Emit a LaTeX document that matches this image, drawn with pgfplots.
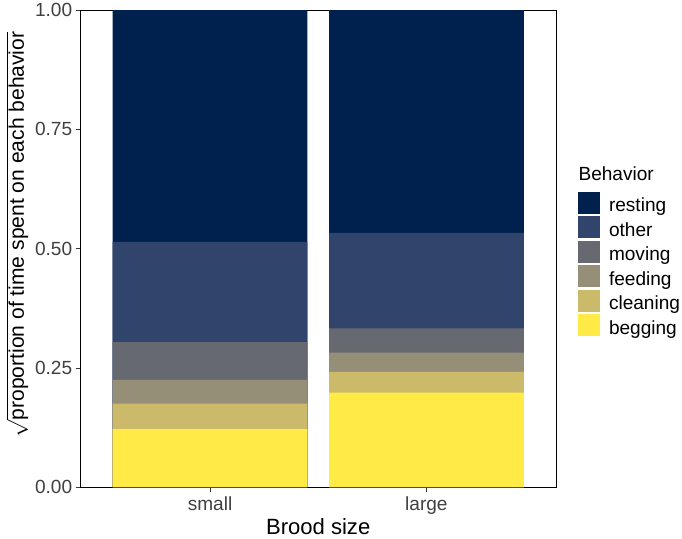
\documentclass[border=0pt]{standalone}
\usepackage{pgfplots}
\pgfplotsset{compat=1.18}
\usepackage{fontspec}
\setmainfont{Liberation Sans}
\definecolor{cResting}{HTML}{00204D}
\definecolor{cOther}{HTML}{31446B}
\definecolor{cMoving}{HTML}{666970}
\definecolor{cFeeding}{HTML}{958F78}
\definecolor{cCleaning}{HTML}{CBBA69}
\definecolor{cBegging}{HTML}{FFEA46}
\begin{document}
\begin{tikzpicture}
\begin{axis}[
  scale only axis, width=473bp, height=474bp,
  ybar, bar shift=0pt, bar width=0.9,
  xmin=0.4, xmax=2.6, ymin=0, ymax=1,
  clip=false,
  xtick={1,2}, xticklabels={small,large},
  ytick={0,0.25,0.5,0.75,1},
  yticklabel style={/pgf/number format/.cd,fixed,fixed zerofill,precision=2},
  /pgf/number format/assume math mode=true,
  tick align=outside, tick pos=left,
  major tick length=4.5bp,
  every tick/.style={black!80, line width=0.7pt},
  axis line style={black, line width=0.9pt},
  ticklabel style={font=\fontsize{19}{20}\selectfont, text=black!75},
  xticklabel style={yshift=-1bp},
  xlabel={Brood size},
  ylabel={$\sqrt{\hbox{proportion of time spent on each behavior}}$},
  xlabel style={font=\fontsize{22}{24}\selectfont, yshift=2bp},
  ylabel style={font=\fontsize{21}{23}\selectfont, yshift=0bp, xshift=14bp},
  legend style={at={(1.045,0.6196)}, anchor=north west, draw=none, fill=none,
    inner sep=0pt, font=\fontsize{19}{20}\selectfont, row sep=0.7bp},
  legend cell align=left,
  legend image code/.code={\fill[#1,draw=none] (0bp,-8bp) rectangle (22bp,14bp);
    \path[draw=none,fill=none] (22bp,0bp) -- (29bp,0bp);},
]
% cumulative (stacked) heights, drawn from the top segment down
\addplot[fill=cResting, draw=none] coordinates {(1,1.000) (2,1.000)};
\addplot[fill=cOther, draw=none] coordinates {(1,0.514) (2,0.533)};
\addplot[fill=cMoving, draw=none] coordinates {(1,0.304) (2,0.333)};
\addplot[fill=cFeeding, draw=none] coordinates {(1,0.225) (2,0.282)};
\addplot[fill=cCleaning, draw=none] coordinates {(1,0.175) (2,0.2415)};
\addplot[fill=cBegging, draw=none] coordinates {(1,0.1215) (2,0.198)};
\legend{resting,other,moving,feeding,cleaning,begging}
\node[anchor=west, font=\fontsize{19}{20}\selectfont, inner sep=0pt] at (rel axis cs:1.0465,0.656) {Behavior};
\end{axis}
\path ([xshift=-3bp]current bounding box.west);
\end{tikzpicture}
\end{document}
